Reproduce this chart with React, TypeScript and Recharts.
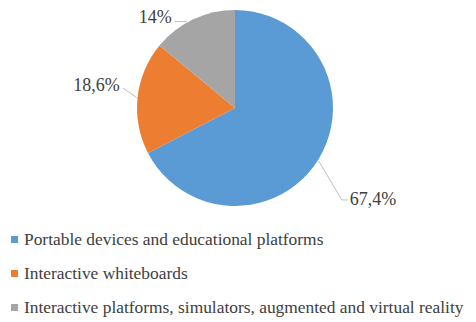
import { PieChart, Pie, Cell, Legend } from "recharts";

const categories = [
  "Portable devices and educational platforms",
  "Interactive whiteboards",
  "Interactive platforms, simulators, augmented and virtual reality",
];
const shares = [67.4, 18.6, 14];
const shareLabels = ["67,4%", "18,6%", "14%"];
const colors = ["#5B9BD5", "#ED7D31", "#A5A5A5"];

const FONT = "'Liberation Serif', 'Times New Roman', serif";

// leader line tweaks per slice (angle offsets in degrees, radius offsets in px)
const leaders = [
  { sa: -1, ea: -9.4, er: 43, tail: 6, dy: 5 },
  { sa: 0, ea: -4, er: 16, tail: 0, dy: 3 },
  { sa: 4, ea: 4, er: 1, tail: -12, dy: 1 },
];

const data = categories.map((name, i) => ({ name, value: shares[i] }));

const RAD = Math.PI / 180;
const polar = (cx: number, cy: number, r: number, a: number) => ({
  x: cx + r * Math.cos(a * RAD),
  y: cy - r * Math.sin(a * RAD),
});

const renderLabel = (props: any) => {
  const { cx, cy, midAngle, outerRadius, index } = props;
  const l = leaders[index];
  const start = polar(cx, cy, outerRadius + 1, midAngle + l.sa);
  const elbow = polar(cx, cy, outerRadius + l.er, midAngle + l.ea);
  const end = { x: elbow.x + l.tail, y: elbow.y };
  const right = l.tail > 0 || (l.tail === 0 && end.x > cx);
  return (
    <g>
      <polyline
        points={`${start.x},${start.y} ${elbow.x},${elbow.y} ${end.x},${end.y}`}
        fill="none"
        stroke="#BFBFBF"
        strokeWidth={1}
      />
      <text
        x={end.x + (right ? 2 : -3)}
        y={end.y + l.dy}
        textAnchor={right ? "start" : "end"}
        fill="#404040"
        fontSize={18}
        fontFamily={FONT}
      >
        {shareLabels[index]}
      </text>
    </g>
  );
};

const renderLegend = () => (
  <div style={{ fontFamily: FONT, fontSize: 17.4, color: "#404040" }}>
    {categories.map((c, i) => (
      <div key={c} style={{ display: "flex", alignItems: "center", height: 34, whiteSpace: "nowrap" }}>
        <span style={{ width: 7, height: 7, background: colors[i], marginLeft: 11, marginRight: 6, flexShrink: 0 }} />
        <span>{c}</span>
      </div>
    ))}
  </div>
);

export default function App() {
  return (
    <div style={{ position: "absolute", left: 0, top: 0, width: 476, height: 322, background: "#fff" }}>
      <PieChart width={476} height={322} margin={{ top: 0, right: 0, bottom: 0, left: 0 }}>
        <Pie
          data={data}
          dataKey="value"
          cx={235}
          cy={108}
          outerRadius={98}
          startAngle={90}
          endAngle={-270}
          stroke="none"
          label={renderLabel}
          labelLine={false}
          isAnimationActive={false}
        >
          {data.map((d, i) => (
            <Cell key={d.name} fill={colors[i]} />
          ))}
        </Pie>
        <Legend
          content={renderLegend}
          layout="vertical"
          wrapperStyle={{ left: 0, top: 222, width: 476 }}
        />
      </PieChart>
    </div>
  );
}
